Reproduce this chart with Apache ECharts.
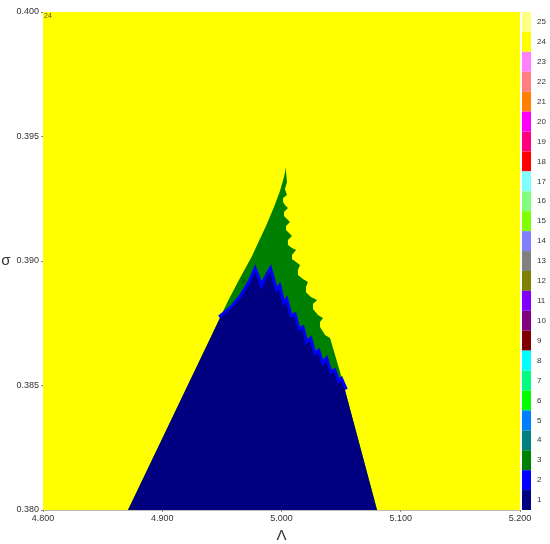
<!DOCTYPE html>
<html>
<head>
<meta charset="utf-8">
<script src="https://cdn.jsdelivr.net/npm/echarts@6/dist/echarts.min.js"></script>
<style>
  html, body { margin: 0; padding: 0; background: #fff; }
  #regionMap { width: 550px; height: 544px; }
</style>
</head>
<body>
<div id="regionMap"></div>
<script>
// region codes 1..25 with their colours
const regionCodes = ['1', '2', '3', '4', '5', '6', '7', '8', '9', '10', '11', '12', '13',
  '14', '15', '16', '17', '18', '19', '20', '21', '22', '23', '24', '25']
const regionColors = ['#000080', '#0000ff', '#008000', '#008080', '#0080ff', '#00ff00', '#00ff80',
  '#00ffff', '#800000', '#800080', '#8000ff', '#808000', '#808080', '#8080ff', '#80ff00',
  '#80ff80', '#80ffff', '#ff0000', '#ff0080', '#ff00ff', '#ff8000', '#ff8080', '#ff80ff',
  '#ffff00', '#ffff80']

// axis ranges
const lamRange = [4.8, 5.2]
const sigRange = [0.38, 0.40]

// outer boundary of the tongue (region 3 = green), left edge top->bottom then right edge bottom->top
const tongueLam = [5.0038, 5.0021, 4.9987, 4.9937, 4.9870, 4.9803, 4.9753, 4.9652, 4.9551, 4.9400, 4.8713,
  5.0801, 5.0532, 5.0491, 5.0449,
  5.0407, 5.0365, 5.0323, 5.0323, 5.0348, 5.0306, 5.0264, 5.0264, 5.0298, 5.0247, 5.0205, 5.0205,
  5.0222, 5.0180, 5.0138, 5.0138, 5.0155, 5.0122, 5.0088, 5.0088, 5.0122, 5.0088, 5.0054, 5.0054,
  5.0088, 5.0063, 5.0038, 5.0038, 5.0071, 5.0046, 5.0021, 5.0021, 5.0054, 5.0029, 5.0013, 5.0013,
  5.0046, 5.0029, 5.0046, 5.0038]
const tongueSig = [0.39378, 0.39337, 0.39281, 0.39217, 0.39141, 0.39072, 0.39020, 0.38932, 0.38839, 0.38687, 0.38000,
  0.38000, 0.38482, 0.38554, 0.38622,
  0.38691, 0.38703, 0.38735, 0.38755, 0.38771, 0.38783, 0.38807, 0.38827, 0.38843, 0.38855, 0.38875, 0.38896,
  0.38916, 0.38928, 0.38944, 0.38964, 0.38984, 0.38996, 0.39008, 0.39024, 0.39044, 0.39052, 0.39064, 0.39084,
  0.39100, 0.39112, 0.39124, 0.39141, 0.39157, 0.39169, 0.39181, 0.39197, 0.39213, 0.39225, 0.39237, 0.39253,
  0.39265, 0.39289, 0.39317, 0.39357]

// region 1 (navy) boundary
const navyLam = [4.8713, 4.9400, 4.9484, 4.9585, 4.9669, 4.9736, 4.9778, 4.9803, 4.9828, 4.9862, 4.9904,
  4.9929, 4.9954, 4.9979, 5.0013, 5.0038, 5.0071, 5.0105, 5.0138, 5.0172, 5.0205, 5.0239, 5.0273,
  5.0306, 5.0340, 5.0373, 5.0407, 5.0440, 5.0474, 5.0499, 5.0532, 5.0801]
const navySig = [0.38000, 0.38687, 0.38771, 0.38811, 0.38859, 0.38912, 0.38956, 0.38924, 0.38884, 0.38920, 0.38956,
  0.38912, 0.38871, 0.38888, 0.38819, 0.38835, 0.38771, 0.38779, 0.38719, 0.38727, 0.38663, 0.38679, 0.38618,
  0.38631, 0.38578, 0.38598, 0.38546, 0.38554, 0.38506, 0.38518, 0.38482, 0.38000]

// small region labels written inside the map
const tagText = ['24', '3', '2', '1']
const tagLam = [4.8042, 4.9677, 4.9878, 4.8746]
const tagSig = [0.39984, 0.38920, 0.38944, 0.38008]

// shapes: background (24), tongue (3), fringe along navy top (2), navy (1)
const shapes = [
  { code: 24, kind: 'polygon', lam: [lamRange[0], lamRange[1], lamRange[1], lamRange[0]], sig: [sigRange[0], sigRange[0], sigRange[1], sigRange[1]] },
  { code: 3, kind: 'polygon', lam: tongueLam, sig: tongueSig },
  { code: 2, kind: 'line', lam: navyLam.slice(2, 31), sig: navySig.slice(2, 31) },
  { code: 1, kind: 'polygon', lam: navyLam, sig: navySig }
]

const chart = echarts.init(document.getElementById('regionMap'))
const font = 'Liberation Sans, Arial, sans-serif'

let pieces = regionCodes.map((c, i) => ({ value: i + 1, label: c, color: regionColors[i] }))

let option = {
  animation: false,
  grid: { left: 43, right: 30, top: 12, bottom: 34, outerBoundsMode: 'none', containLabel: false },
  xAxis: {
    type: 'value',
    min: lamRange[0],
    max: lamRange[1],
    interval: 0.1,
    name: 'Λ',
    nameLocation: 'middle',
    nameGap: 17,
    nameTextStyle: { fontSize: 15, color: '#333', fontFamily: font },
    axisLine: { show: true, lineStyle: { color: '#bbb', width: 1 } },
    axisTick: { show: true, length: 2, lineStyle: { color: '#888' } },
    axisLabel: { fontSize: 9, color: '#333', fontFamily: font, margin: 4, formatter: v => v.toFixed(3) },
    splitLine: { show: false }
  },
  yAxis: {
    type: 'value',
    min: sigRange[0],
    max: sigRange[1],
    interval: 0.005,
    name: 'σ',
    nameLocation: 'middle',
    nameRotate: 0,
    nameGap: 28,
    nameTextStyle: { fontSize: 15, color: '#333', fontFamily: font },
    axisLine: { show: false },
    axisTick: { show: true, length: 2, lineStyle: { color: '#888' } },
    axisLabel: { fontSize: 9, color: '#333', fontFamily: font, margin: 4, formatter: v => v.toFixed(3) },
    splitLine: { show: false }
  },
  visualMap: {
    type: 'piecewise',
    seriesIndex: 0,
    dimension: 2,
    orient: 'vertical',
    align: 'left',
    left: 522,
    top: 12,
    padding: 0,
    itemWidth: 9,
    itemHeight: 498 / 25,
    itemGap: 0,
    itemSymbol: 'rect',
    textGap: 6,
    selectedMode: false,
    hoverLink: false,
    textStyle: { fontSize: 8, color: '#333', fontFamily: font },
    pieces: pieces
  },
  series: [
    {
      type: 'custom',
      clip: true,
      data: shapes.map(s => [s.lam[0], s.sig[0], s.code]),
      renderItem: function (params, api) {
        let s = shapes[params.dataIndex]
        let pts = s.lam.map((l, i) => api.coord([l, s.sig[i]]))
        if (s.kind === 'line') {
          return { type: 'polyline', shape: { points: pts }, style: { stroke: api.visual('color'), lineWidth: 6, fill: null } }
        }
        return { type: 'polygon', shape: { points: pts }, style: { fill: api.visual('color') } }
      }
    },
    {
      type: 'scatter',
      symbolSize: 0,
      silent: true,
      z: 5,
      data: tagText.map((t, i) => ({ value: [tagLam[i], tagSig[i]], name: t })),
      label: {
        show: true,
        position: 'inside',
        formatter: p => p.name,
        fontSize: 7,
        color: '#222',
        fontFamily: font
      }
    }
  ]
}
chart.setOption(option)
window.addEventListener('resize', () => { chart.resize() })
</script>
</body>
</html>
